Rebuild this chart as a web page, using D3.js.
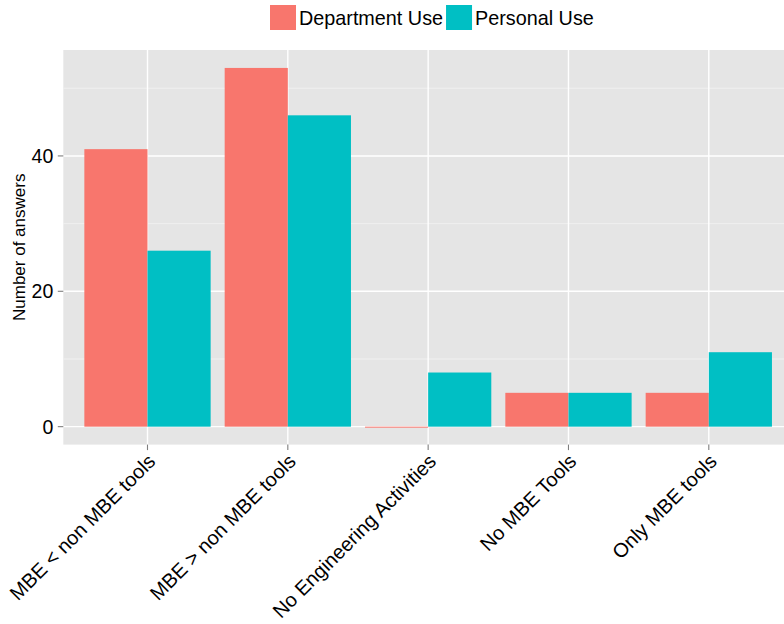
<!DOCTYPE html>
<html><head><meta charset="utf-8">
<script src="https://cdn.jsdelivr.net/npm/d3@7"></script>
<style>body{margin:0;background:#fff}svg{display:block;font-family:"Liberation Sans",Arial,Helvetica,sans-serif}</style>
</head><body>
<svg id="c" width="784" height="624"></svg>
<script>
const categories = ["MBE < non MBE tools","MBE > non MBE tools","No Engineering Activities","No MBE Tools","Only MBE tools"];
const seriesNames = ["Department Use","Personal Use"];
const departmentUse = [41,53,0,5,5];
const personalUse = [26,46,8,5,11];
const yTicks = [0,20,40];
const yMinor = [10,30,50];
const colors = ["#F8766D","#00BFC4"];

const svg = d3.select("#c");
const L = 63.3, R = 793, T = 50, B = 444.6;
// ggplot discrete scale: 0.6 step expansion each side; bar group width 0.9 step
const x = d3.scalePoint().domain(categories);
const step = (R-L)/(categories.length-1+1.2);
x.range([L+0.6*step, R-0.6*step]);
const bw = 0.9*step;
const ymax = d3.max(departmentUse.concat(personalUse)), ymin = 0, ex = (ymax-ymin)*0.05;
const y = d3.scaleLinear().domain([ymin-ex, ymax+ex]).range([B,T]);

svg.append("rect").attr("x",L).attr("y",T).attr("width",R-L).attr("height",B-T).attr("fill","#E5E5E5");
svg.selectAll(".ymin").data(yMinor).enter().append("line")
  .attr("x1",L).attr("x2",R).attr("y1",d=>y(d)).attr("y2",d=>y(d)).attr("stroke","#F2F2F2").attr("stroke-width",0.8);
svg.selectAll(".ymaj").data(yTicks).enter().append("line")
  .attr("x1",L).attr("x2",R).attr("y1",d=>y(d)).attr("y2",d=>y(d)).attr("stroke","#fff").attr("stroke-width",1.4);
svg.selectAll(".xmaj").data(categories).enter().append("line")
  .attr("x1",d=>x(d)).attr("x2",d=>x(d)).attr("y1",T).attr("y2",B).attr("stroke","#fff").attr("stroke-width",1.4);

const data = [];
categories.forEach((c,i)=>{
  data.push({c, s:0, v:departmentUse[i]});
  data.push({c, s:1, v:personalUse[i]});
});
svg.selectAll(".bar").data(data).enter().append("rect")
  .attr("x",d=>x(d.c) - bw/2 + d.s*bw/2)
  .attr("width",bw/2)
  .attr("y",d=>y(d.v))
  .attr("height",d=>Math.max(1, y(0)-y(d.v)))
  .attr("fill",d=>colors[d.s]);

// y axis
const yg = svg.append("g");
yTicks.forEach(t=>{
  yg.append("line").attr("x1",L-5.5).attr("x2",L).attr("y1",y(t)).attr("y2",y(t)).attr("stroke","#7F7F7F").attr("stroke-width",1.1);
  yg.append("text").attr("x",L-10).attr("y",y(t)).attr("dy","0.36em").attr("text-anchor","end")
    .attr("font-size",19.5).attr("fill","#000").text(t);
});
svg.append("text").attr("transform",`translate(25,${(T+B)/2}) rotate(-90)`).attr("text-anchor","middle")
  .attr("font-size",17).attr("fill","#000").text("Number of answers");

// x axis
categories.forEach(c=>{
  svg.append("line").attr("x1",x(c)).attr("x2",x(c)).attr("y1",B).attr("y2",B+5.5).attr("stroke","#7F7F7F").attr("stroke-width",1.1);
  svg.append("text").attr("transform",`translate(${x(c)-1},${B+8}) rotate(-45)`).attr("text-anchor","end")
    .attr("dy","0.72em").attr("font-size",20).attr("fill","#000").text(c);
});

// legend
const lg = svg.append("g");
let lx = 270;
seriesNames.forEach((n,i)=>{
  lg.append("rect").attr("x",lx).attr("y",5).attr("width",26).attr("height",25).attr("fill",colors[i]);
  const t = lg.append("text").attr("x",lx+29).attr("y",25).attr("font-size",19.8).attr("fill","#000").text(n);
  lx += 29 + t.node().getComputedTextLength() + 3;
});
</script>
</body></html>
